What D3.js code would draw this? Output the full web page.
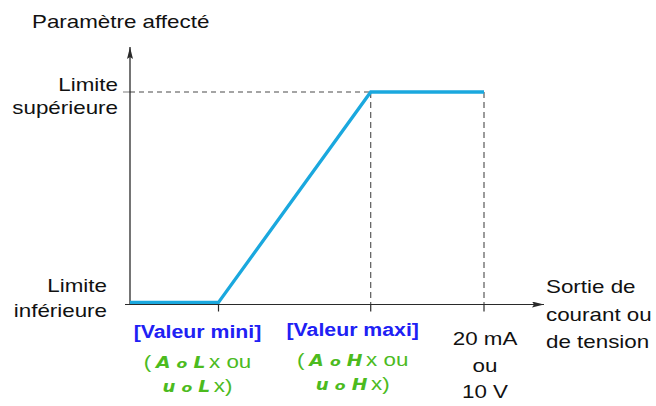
<!DOCTYPE html>
<html>
<head>
<meta charset="utf-8">
<script src="https://cdn.jsdelivr.net/npm/d3@7/dist/d3.min.js"></script>
<style>
  html, body { margin: 0; padding: 0; background: #fff; }
  svg text { font-family: "Liberation Sans", Arial, sans-serif; }
</style>
</head>
<body>
<svg id="chart" width="656" height="406"></svg>
<script>
// Transfer curve: output signal (mA) against the affected parameter (0 = lower limit, 1 = upper limit)
const outputX = [0, 5, 13.6, 20];
const paramY = [0, 0, 1, 1];

// Marked positions on the output axis
const markX = [5, 13.6, 20];

// Text labels
const yTitle = "Paramètre affecté";
const upperLabel = ["Limite", "supérieure"];
const lowerLabel = ["Limite", "inférieure"];
const xTitle = ["Sortie de", "courant ou", "de tension"];
const minLabel = "[Valeur mini]";
const maxLabel = "[Valeur maxi]";
const minCodes = [["A", "o", "L"], ["u", "o", "L"]];
const maxCodes = [["A", "o", "H"], ["u", "o", "H"]];
const endLabel = ["20 mA", "ou", "10 V"];

const svg = d3.select("#chart");
const axisColor = "#2a2a2a";
const dashColor = "#4a4a4a";
const lineColor = "#1aa8de";
const blue = "#2020f4";
const green = "#4cbb1e";

const x = d3.scaleLinear().domain([0, 20]).range([130, 484]);
const y = d3.scaleLinear().domain([0, 1]).range([302.4, 92]);
const axisY = 304.5;
const axisX = 130;

// Text is set in a slightly widened sans face
const FS = 18.5;
const WIDEN = 1.21;
function label(px, py, str, anchor, opts = {}) {
  const t = svg.append("text")
    .attr("transform", `translate(${px},${py}) scale(${WIDEN},1)`)
    .attr("text-anchor", anchor || "start")
    .attr("font-size", opts.size || FS)
    .attr("font-weight", opts.weight || "normal")
    .attr("fill", opts.fill || "#111");
  if (str !== null) t.text(str);
  return t;
}

// Arrowhead
svg.append("defs").append("marker")
  .attr("id", "arrow")
  .attr("viewBox", "0 0 12 6")
  .attr("refX", 12).attr("refY", 3)
  .attr("markerWidth", 12).attr("markerHeight", 6)
  .attr("markerUnits", "userSpaceOnUse")
  .attr("orient", "auto")
  .append("path").attr("d", "M0,0 L12,3 L0,6 L2,3 Z").attr("fill", axisColor);

// Dashed guides
svg.append("line")
  .attr("x1", axisX).attr("x2", x(markX[1]))
  .attr("y1", y(1)).attr("y2", y(1))
  .attr("stroke", dashColor).attr("stroke-width", 1.1).attr("stroke-dasharray", "5,4");
svg.append("line")
  .attr("x1", axisX - 7).attr("x2", axisX)
  .attr("y1", y(1)).attr("y2", y(1))
  .attr("stroke", "#888").attr("stroke-width", 1.1);
[markX[1], markX[2]].forEach(v => {
  svg.append("line")
    .attr("x1", x(v)).attr("x2", x(v))
    .attr("y1", y(1)).attr("y2", axisY)
    .attr("stroke", dashColor).attr("stroke-width", 1.1).attr("stroke-dasharray", "6,4");
});

// Axes
svg.append("line")
  .attr("x1", axisX).attr("x2", axisX)
  .attr("y1", axisY).attr("y2", 47)
  .attr("stroke", axisColor).attr("stroke-width", 1.3)
  .attr("marker-end", "url(#arrow)");
svg.append("line")
  .attr("x1", 125).attr("x2", 544)
  .attr("y1", axisY).attr("y2", axisY)
  .attr("stroke", axisColor).attr("stroke-width", 1.2)
  .attr("marker-end", "url(#arrow)");

// Tick marks below the axis
svg.selectAll(".tick").data(markX).enter().append("line")
  .attr("class", "tick")
  .attr("x1", d => x(d)).attr("x2", d => x(d))
  .attr("y1", axisY).attr("y2", axisY + 7)
  .attr("stroke", axisColor).attr("stroke-width", 1.2);

// Transfer curve
const line = d3.line().x((d, i) => x(outputX[i])).y(d => y(d));
svg.append("path")
  .datum(paramY)
  .attr("d", line)
  .attr("fill", "none")
  .attr("stroke", lineColor)
  .attr("stroke-width", 3.3)
  .attr("stroke-linejoin", "miter");

// Axis titles and limit labels
label(32, 28, yTitle, "start");
label(118, 91, upperLabel[0], "end");
label(118, 114, upperLabel[1], "end");
label(107, 292, lowerLabel[0], "end");
label(107, 317, lowerLabel[1], "end");
xTitle.forEach((t, j) => label(546, 293 + j * 27.5, t, "start"));
endLabel.forEach((t, j) => label(x(markX[2]) + 1, 345 + j * 26.5, t, "middle"));

// Parameter names under the ramp end points
function codeBlock(cx, top, title, codes) {
  label(cx, top, title, "middle", { weight: "bold", fill: blue, size: 17.6 });
  codes.forEach((c, j) => {
    const t = label(cx, top + 29.5 + 24.5 * j, null, "middle", { fill: green });
    if (j === 0) t.append("tspan").text("(");
    c.forEach((g, k) => {
      t.append("tspan")
        .attr("font-family", "'DejaVu Sans', sans-serif")
        .attr("font-style", "italic").attr("font-weight", "bold")
        .attr("font-size", g === "o" ? 13 : (g === "u" ? 15 : 15.5))
        .attr("dx", k === 0 ? (j === 0 ? 4 : 0) : 5)
        .text(g);
    });
    t.append("tspan").attr("dx", 3).text(j === 0 ? "x ou" : "x)");
  });
}
codeBlock(x(markX[0]) - 21, 338, minLabel, minCodes);
codeBlock(x(markX[1]) - 18, 336, maxLabel, maxCodes);
</script>
</body>
</html>
